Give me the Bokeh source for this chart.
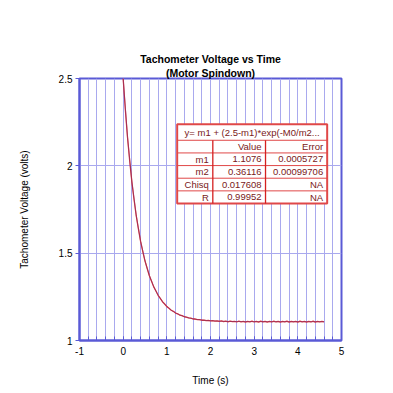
from bokeh.plotting import figure
from bokeh.models import FixedTicker, Range1d, Title
from bokeh.core.properties import value
from bokeh.embed import file_html
from bokeh.resources import INLINE

# ---------------- data ----------------
x_major = [-1, 0, 1, 2, 3, 4, 5]
y_major = [1, 1.5, 2, 2.5]

# measured tachometer voltage (red trace)
t_data = [0.00, 0.05, 0.10, 0.15, 0.20, 0.25, 0.30, 0.35, 0.40, 0.45,
          0.50, 0.55, 0.60, 0.65, 0.70, 0.75, 0.80, 0.85, 0.90, 0.95,
          1.00, 1.05, 1.10, 1.15, 1.20, 1.25, 1.30, 1.35, 1.40, 1.45,
          1.50, 1.55, 1.60, 1.65, 1.70, 1.75, 1.80, 1.85, 1.90, 1.95,
          2.00, 2.05, 2.10, 2.15, 2.20, 2.25, 2.30, 2.35, 2.40, 2.45,
          2.50, 2.55, 2.60, 2.65, 2.70, 2.75, 2.80, 2.85, 2.90, 2.95,
          3.00, 3.05, 3.10, 3.15, 3.20, 3.25, 3.30, 3.35, 3.40, 3.45,
          3.50, 3.55, 3.60, 3.65, 3.70, 3.75, 3.80, 3.85, 3.90, 3.95,
          4.00, 4.05, 4.10, 4.15, 4.20, 4.25, 4.30, 4.35, 4.40, 4.45,
          4.50, 4.55, 4.60]
v_data = [2.500, 2.321, 2.162, 2.028, 1.907, 1.806, 1.713, 1.637, 1.566, 1.509,
          1.455, 1.412, 1.371, 1.339, 1.307, 1.283, 1.259, 1.241, 1.222, 1.209,
          1.194, 1.185, 1.173, 1.167, 1.157, 1.153, 1.145, 1.142, 1.136, 1.134,
          1.129, 1.128, 1.123, 1.123, 1.119, 1.120, 1.116, 1.117, 1.114, 1.115,
          1.112, 1.114, 1.111, 1.112, 1.109, 1.112, 1.108, 1.111, 1.107, 1.111,
          1.108, 1.110, 1.106, 1.111, 1.107, 1.109, 1.105, 1.110, 1.107, 1.111,
          1.106, 1.109, 1.105, 1.111, 1.107, 1.110, 1.105, 1.109, 1.106, 1.111,
          1.106, 1.110, 1.105, 1.109, 1.107, 1.111, 1.105, 1.110, 1.106, 1.109,
          1.105, 1.111, 1.107, 1.109, 1.105, 1.110, 1.106, 1.111, 1.105, 1.109,
          1.107, 1.110, 1.106]

# fitted curve (dark trace)
t_fit = [0.0, 0.1, 0.2, 0.3, 0.4, 0.5, 0.6, 0.7, 0.8, 0.9, 1.0,
         1.1, 1.2, 1.3, 1.4, 1.5, 1.6, 1.7, 1.8, 1.9, 2.0,
         2.2, 2.4, 2.6, 2.8, 3.0, 3.2, 3.4, 3.6, 3.8, 4.0, 4.2, 4.4, 4.6]
v_fit = [2.5000, 2.1632, 1.9079, 1.7143, 1.5677, 1.4564, 1.3720, 1.3081, 1.2596, 1.2229, 1.1949,
         1.1738, 1.1578, 1.1457, 1.1364, 1.1295, 1.1242, 1.1202, 1.1171, 1.1148, 1.1131,
         1.1107, 1.1094, 1.1086, 1.1082, 1.1079, 1.1078, 1.1077, 1.1076, 1.1076, 1.1076, 1.1076, 1.1076, 1.1076]

# fit results table
table_header = "y= m1 + (2.5-m1)*exp(-M0/m2..."
row_names = ["", "m1", "m2", "Chisq", "R"]
row_values = ["Value", "1.1076", "0.36116", "0.017608", "0.99952"]
row_errors = ["Error", "0.0005727", "0.00099706", "NA", "NA"]

title_line1 = "Tachometer Voltage vs Time"
title_line2 = "(Motor Spindown)"

# ---------------- styling ----------------
FONT = "Liberation Sans"
BLUE = "#5a5ad6"
GRID = "#a9a9ee"
RED = "#e03a46"
TABLE_RED = "#e04848"
TABLE_TEXT = "#7a2020"

p = figure(width=393, height=393, output_backend="svg", toolbar_location=None,
           x_range=Range1d(-1, 5), y_range=Range1d(1, 2.5),
           min_border_left=79, min_border_right=52, min_border_top=78, min_border_bottom=53)
p.background_fill_color = "white"
p.border_fill_color = "white"
p.outline_line_color = BLUE
p.outline_line_width = 2

# two-line title
p.title.text = title_line1
p.title.align = "center"
p.title.text_font = FONT
p.title.text_font_size = "10.5px"
p.title.text_font_style = "bold"
p.title.text_color = "black"
p.title.standoff = 0
p.title.offset = 0
p.add_layout(Title(text=title_line2, align="center", text_font=FONT,
                   text_font_size="10.5px", text_font_style="bold",
                   text_color="black", standoff=0), "above")

minor = [round(-1 + 0.2 * i, 1) for i in range(31)]
p.xaxis.ticker = FixedTicker(ticks=x_major, minor_ticks=minor)
p.yaxis.ticker = FixedTicker(ticks=y_major)
p.xgrid.ticker = FixedTicker(ticks=minor)
p.xaxis.major_label_overrides = {v: str(v) for v in x_major}
p.yaxis.major_label_overrides = {1: "1", 1.5: "1.5", 2: "2", 2.5: "2.5"}

for g in (p.xgrid, p.ygrid):
    g.grid_line_color = GRID
    g.grid_line_width = 1

for ax in (p.xaxis, p.yaxis):
    ax.axis_line_color = BLUE
    ax.axis_line_width = 2
    ax.major_tick_line_color = BLUE
    ax.minor_tick_line_color = BLUE
    ax.major_label_text_font = FONT
    ax.major_label_text_font_size = "10px"
    ax.major_label_text_color = "black"
    ax.axis_label_text_font = FONT
    ax.axis_label_text_font_size = "10px"
    ax.axis_label_text_font_style = "normal"
    ax.axis_label_text_color = "black"

p.xaxis.major_tick_in = 4
p.xaxis.major_tick_out = 0
p.xaxis.minor_tick_in = 4
p.xaxis.minor_tick_out = 0
p.xaxis.major_label_standoff = 6
p.xaxis.axis_label = "Time (s)"
p.xaxis.axis_label_standoff = 17

p.yaxis.major_tick_in = 0
p.yaxis.major_tick_out = 4
p.yaxis.minor_tick_line_color = None
p.yaxis.major_label_standoff = 3
p.yaxis.axis_label = "Tachometer Voltage (volts)"
p.yaxis.axis_label_standoff = 26

# curves
p.line(t_data, v_data, line_color=RED, line_width=1.3)
p.line(t_fit, v_fit, line_color="#7a2a5a", line_width=0.6)

# table geometry (data units)
tl, c1, c2, tr = 1.237, 2.053, 3.26, 4.672
ttop, hbot = 2.2376, 2.1463
rstep = 0.0724
row_edges = [hbot - rstep * i for i in range(len(row_names) + 1)]
tbot = row_edges[-1]

p.quad(left=[tl], right=[tr], top=[ttop], bottom=[tbot], fill_color="white",
       line_color=TABLE_RED, line_width=2)
p.segment(x0=[tl] * len(row_edges[:-1]), x1=[tr] * len(row_edges[:-1]),
          y0=row_edges[:-1], y1=row_edges[:-1], line_color=TABLE_RED, line_width=1)
p.segment(x0=[c1, c2], x1=[c1, c2], y0=[hbot, hbot], y1=[tbot, tbot],
          line_color="#d42020", line_width=1.3)

p.text(x=[(tl + tr) / 2], y=[(ttop + hbot) / 2], text=[table_header],
       text_font=value(FONT), text_font_size="9.5px", text_align="center",
       text_baseline="middle", text_color=TABLE_TEXT)
row_mid = [(row_edges[i] + row_edges[i + 1]) / 2 for i in range(len(row_names))]
for col_x, col_txt in ((c1, row_names), (c2, row_values), (tr, row_errors)):
    p.text(x=[col_x] * len(col_txt), y=row_mid, text=col_txt, x_offset=-4,
           text_font=value(FONT), text_font_size="9.5px", text_align="right",
           text_baseline="middle", text_color=TABLE_TEXT)

open("out.html", "w").write(file_html(p, INLINE))
